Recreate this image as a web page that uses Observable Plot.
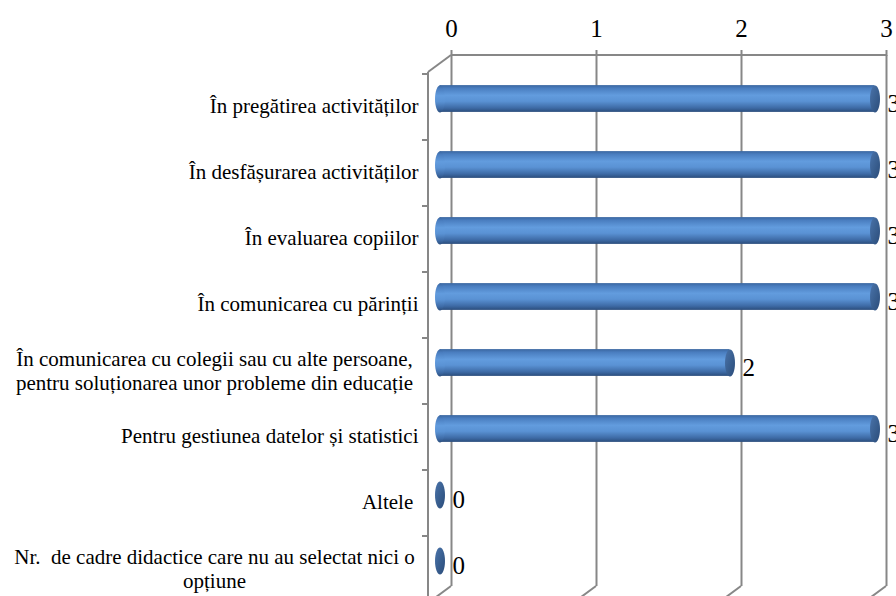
<!DOCTYPE html>
<html>
<head>
<meta charset="utf-8">
<script src="https://cdn.jsdelivr.net/npm/d3@7"></script>
<script src="https://cdn.jsdelivr.net/npm/@observablehq/plot@0.6"></script>
<style>
  html, body { margin: 0; padding: 0; background: #ffffff; }
  svg text { font-family: "Liberation Serif", "Times New Roman", serif; }
</style>
</head>
<body>
<div id="chart"></div>
<script>
// ---- data ----
const categories = [
  "În pregătirea activităților",
  "În desfășurarea activităților",
  "În evaluarea copiilor",
  "În comunicarea cu părinții",
  "În comunicarea cu colegii sau cu alte persoane,\npentru soluționarea unor probleme din educație",
  "Pentru gestiunea datelor și statistici",
  "Altele\u00a0",
  "Nr.\u00a0 de cadre didactice care nu au selectat nici o\nopțiune"
];
const values = [3, 3, 3, 3, 2, 3, 0, 0];
const xTicks = [0, 1, 2, 3];

// ---- styling constants ----
const GRID = "#878787";
const DX = -23, DY = 17;          // depth offset of the front plane
const FONT = "Liberation Serif";

const rows = categories.map((c, i) => ({category: c, value: values[i]}));

// ellipse symbol used for the cylinder ends
const ellipse = {
  draw(ctx) {
    const a = 5, b = 13.6, k = 0.5523;
    ctx.moveTo(a, 0);
    ctx.bezierCurveTo(a, b * k, a * k, b, 0, b);
    ctx.bezierCurveTo(-a * k, b, -a, b * k, -a, 0);
    ctx.bezierCurveTo(-a, -b * k, -a * k, -b, 0, -b);
    ctx.bezierCurveTo(a * k, -b, a, -b * k, a, 0);
    ctx.closePath();
  }
};

// 3D walls / floor edges drawn with the plot's own scales
function depthFrame(index, scales, values, dim) {
  const {x, y} = scales;
  const top = dim.marginTop, bottom = dim.height - dim.marginBottom;
  const x0 = x(0), x3 = x(xTicks[xTicks.length - 1]);
  const g = d3.create("svg:g")
    .attr("stroke", GRID).attr("stroke-width", 2).attr("fill", "none");
  const line = (a, b, c, d) => g.append("line")
    .attr("x1", a).attr("y1", b).attr("x2", c).attr("y2", d);
  line(x0, top, x3, top);                          // back top edge
  line(x0, top, x0 + DX, top + DY);                // side wall top edge
  line(x0 + DX, top + DY, x0 + DX, bottom + DY);   // front vertical axis
  for (const t of xTicks) line(x(t), bottom, x(t) + DX, bottom + DY); // floor lines
  for (const c of categories) {                    // front axis ticks
    const yy = y(c) + DY;
    line(x0 + DX - 6, yy, x0 + DX, yy);
  }
  return g.node();
}

const plot = Plot.plot({
  width: 896,
  height: 596,
  marginLeft: 451,
  marginRight: 10,
  marginTop: 55,
  marginBottom: 10,
  x: {domain: [0, 3], axis: null},
  y: {domain: categories, axis: null, padding: 0},
  style: "font-family: 'Liberation Serif', 'Times New Roman', serif; background: white; color: black;",
  marks: [
    Plot.ruleX(xTicks, {stroke: GRID, strokeWidth: 2}),
    Plot.axisX(xTicks, {anchor: "top", tickSize: 6, tickPadding: 13, label: null,
      stroke: GRID, strokeWidth: 2, fill: "black", fontSize: 25, fontFamily: FONT,
      tickFormat: d => String(d)}),
    depthFrame,
    Plot.barX(rows.filter(d => d.value > 0), {
      x1: 0, x2: "value", y: "category",
      insetTop: 19.6, insetBottom: 19.6,
      dx: DX / 2, dy: DY / 2, fill: "url(#cyl)"
    }),
    Plot.dot(rows.filter(d => d.value > 0), {
      x: 0, y: "category", symbol: ellipse, fill: "url(#cyl)",
      dx: DX / 2, dy: DY / 2
    }),
    Plot.dot(rows, {
      x: "value", y: "category", symbol: ellipse, fill: "url(#cap)",
      dx: DX / 2, dy: DY / 2
    }),
    Plot.text(rows, {
      x: "value", y: "category", text: d => String(d.value), fontFamily: FONT,
      textAnchor: "start", dx: 1, dy: DY / 2 + 5, fontSize: 25, fill: "black"
    }),
    Plot.text(rows.filter(d => !d.category.includes("\n")), {
      y: "category", text: "category", frameAnchor: "left", fontFamily: FONT,
      textAnchor: "end", dx: DX - 10, dy: DY - 1, fontSize: 21, fill: "black"
    }),
    Plot.text(rows.filter(d => d.category.includes("\n")), {
      y: "category", text: "category", frameAnchor: "left", fontFamily: FONT,
      textAnchor: "middle", dx: -237, dy: DY - 1, fontSize: 21, lineHeight: 1.14, fill: "black"
    })
  ]
});

// gradients for the cylinders
const svg = d3.select(plot);
const defs = svg.insert("defs", ":first-child");
const g1 = defs.append("linearGradient").attr("id", "cyl")
  .attr("x1", 0).attr("y1", 0).attr("x2", 0).attr("y2", 1);
[[0, "#3a66a0"], [0.12, "#4a7ec0"], [0.38, "#629cde"], [0.6, "#5a92d4"], [0.85, "#3e6ba6"], [1, "#2b4d7c"]]
  .forEach(([o, c]) => g1.append("stop").attr("offset", o).attr("stop-color", c));
const g2 = defs.append("linearGradient").attr("id", "cap")
  .attr("x1", 0).attr("y1", 0).attr("x2", 1).attr("y2", 1);
[[0, "#4a73aa"], [0.5, "#3a6091"], [1, "#2b4c7a"]]
  .forEach(([o, c]) => g2.append("stop").attr("offset", o).attr("stop-color", c));

document.getElementById("chart").appendChild(plot);
</script>
</body>
</html>
